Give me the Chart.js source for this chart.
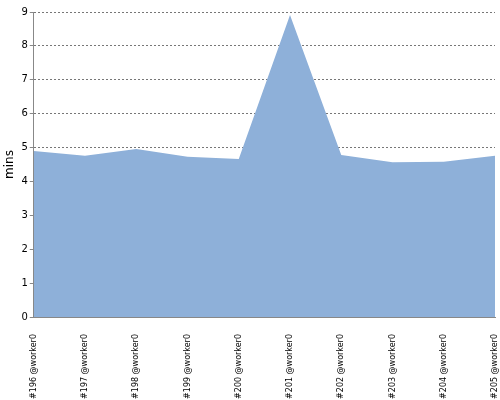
<!DOCTYPE html>
<html>
<head>
<meta charset="utf-8">
<script src="https://cdn.jsdelivr.net/npm/chart.js@4/dist/chart.umd.min.js"></script>
<style>
  html, body { margin: 0; padding: 0; background: #fff; }
  #wrap { width: 500px; height: 400px; }
</style>
</head>
<body>
<div id="wrap"><canvas id="chartMins" width="500" height="400"></canvas></div>
<script>
// labels and values
const builds = ['#196 @worker0', '#197 @worker0', '#198 @worker0', '#199 @worker0', '#200 @worker0',
                '#201 @worker0', '#202 @worker0', '#203 @worker0', '#204 @worker0', '#205 @worker0'];
const mins = [4.9, 4.76, 4.96, 4.73, 4.66, 8.91, 4.78, 4.57, 4.58, 4.76];
const yTicks = [0, 1, 2, 3, 4, 5, 6, 7, 8, 9];

var ctx = document.getElementById("chartMins");

const data = {
    labels: builds,
    datasets: [{
        label: 'mins',
        data: mins,
        fill: 'origin',
        backgroundColor: 'rgb(142, 176, 217)',
        borderWidth: 0,
        pointRadius: 0,
        tension: 0
    }]
};

const config = {
    type: 'line',
    data: data,
    options: {
        responsive: false,
        animation: false,
        layout: { padding: { top: 12, right: 0, left: 1, bottom: 0 } },
        plugins: {
            legend: { display: false },
            tooltip: { enabled: false }
        },
        scales: {
            x: {
                offset: false,
                grid: { display: false },
                border: { display: true, color: '#888' },
                afterFit: function(axis) {
                    // rotated labels are thin, no need for the extra gaps
                    axis.paddingRight = 5;
                    axis.height = 83;
                },
                ticks: {
                    autoSkip: false,
                    minRotation: 90,
                    maxRotation: 90,
                    padding: 9,
                    color: '#000',
                    font: { family: 'DejaVu Sans', size: 8 }
                }
            },
            y: {
                min: 0,
                max: 9,
                z: 1,
                afterBuildTicks: function(axis) {
                    axis.ticks = yTicks.map(function(v) { return { value: v }; });
                },
                grid: {
                    color: '#777',
                    tickBorderDash: [],
                    tickLength: 4,
                    tickColor: '#888'
                },
                border: { display: true, color: '#888', dash: [2, 2] },
                ticks: {
                    color: '#000',
                    padding: 2,
                    font: { family: 'DejaVu Sans', size: 10 }
                },
                title: {
                    display: true,
                    text: 'mins',
                    color: '#000',
                    padding: 2,
                    font: { family: 'DejaVu Sans', size: 12 }
                }
            }
        }
    }
};

var chart = new Chart(ctx, config);
</script>
</body>
</html>
